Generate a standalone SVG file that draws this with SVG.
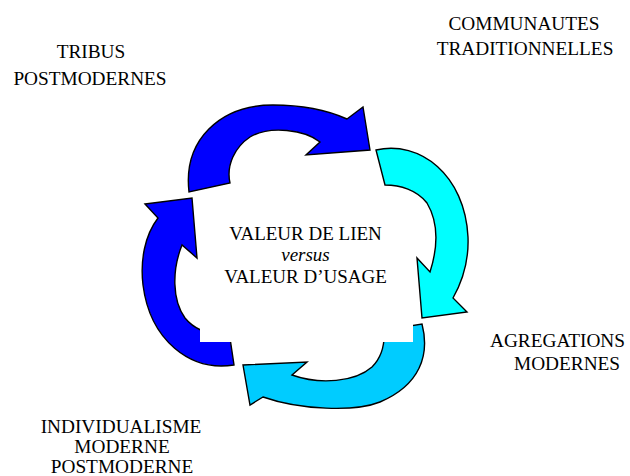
<svg xmlns="http://www.w3.org/2000/svg" width="630" height="476" viewBox="0 0 630 476">
<rect width="630" height="476" fill="#fff"/>
<g id="connectors" stroke="#000" stroke-width="1.4" stroke-linejoin="miter">
<path fill="#0000FF" d="M189,192 C183,140 220,105 273,105 C300,105 327,110 347,119 L363,107 L370,150 L306,155 L320,142 C305,130 270,125 250,137 C235,147 226,165 230,183 Z"/>
<path fill="#00FFFF" d="M376,150 C420,140 465,175 468,237 C469,262 462,282 453,298 L467,312 L422,318 L417,258 L430,272 C437,250 440,225 427,203 C417,190 400,185 385,185 Z"/>
<path fill="#00CCFF" d="M422,324 C430,355 420,385 380,402 C355,412 300,410 263,397 L250,405 L243,365 L307,362 L292,375 C320,385 355,382 372,367 C382,357 385,345 384,330 Z"/>
<path fill="#0000FF" d="M145,204 L192,198 L197,258 L182,245 C172,270 172,300 185,318 C193,328 205,334 230,338 L234,365 C190,372 150,340 143,285 C140,260 145,235 158,218 Z"/>
</g>
<g id="center">
<rect x="200" y="200" width="213" height="142" fill="#fff"/>
<text x="305.5" y="240" font-family="Liberation Serif" font-size="19" text-anchor="middle">VALEUR DE LIEN</text>
<text x="305.5" y="261" font-family="Liberation Serif" font-size="19" font-style="italic" text-anchor="middle">versus</text>
<text x="305.5" y="283" font-family="Liberation Serif" font-size="19" text-anchor="middle">VALEUR D’USAGE</text>
</g>
<g id="tribus">
<text x="91" y="58" font-family="Liberation Serif" font-size="19.3" text-anchor="middle">TRIBUS</text>
<text x="90" y="85" font-family="Liberation Serif" font-size="19.3" text-anchor="middle">POSTMODERNES</text>
</g>
<g id="communautes">
<text x="524" y="30" font-family="Liberation Serif" font-size="19.3" text-anchor="middle">COMMUNAUTES</text>
<text x="525" y="55" font-family="Liberation Serif" font-size="19.3" text-anchor="middle">TRADITIONNELLES</text>
</g>
<g id="agregations">
<text x="490" y="347" font-family="Liberation Serif" font-size="19.3">AGREGATIONS</text>
<text x="514" y="370" font-family="Liberation Serif" font-size="19.3">MODERNES</text>
</g>
<g id="individualisme">
<text x="121" y="433" font-family="Liberation Serif" font-size="19.3" text-anchor="middle">INDIVIDUALISME</text>
<text x="122" y="453" font-family="Liberation Serif" font-size="19.3" text-anchor="middle">MODERNE</text>
<text x="122" y="473" font-family="Liberation Serif" font-size="19.3" text-anchor="middle">POSTMODERNE</text>
</g>
</svg>
